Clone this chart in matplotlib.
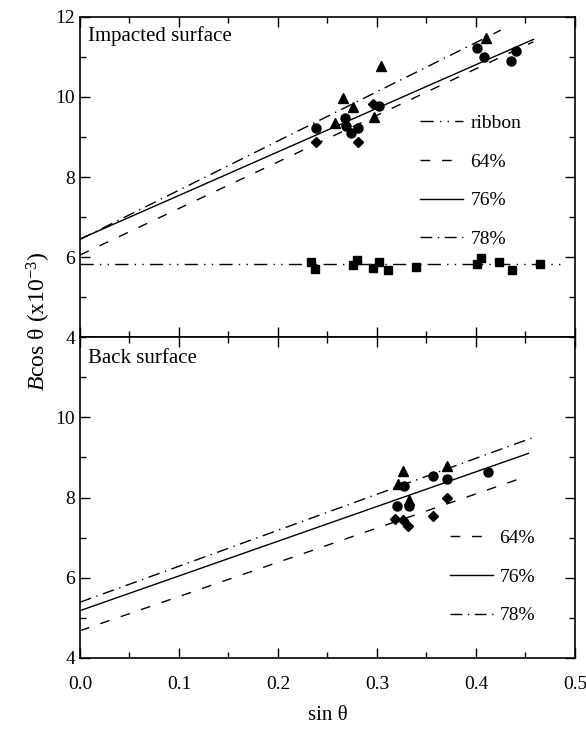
import matplotlib
matplotlib.use("Agg")
import matplotlib.pyplot as plt
from matplotlib.ticker import MultipleLocator, FormatStrFormatter

plt.rcParams['font.family'] = ['Liberation Serif', 'DejaVu Serif']
plt.rcParams['mathtext.fontset'] = 'custom'
plt.rcParams['mathtext.rm'] = 'Liberation Serif'
plt.rcParams['mathtext.it'] = 'Liberation Serif:italic'

# Impacted surface data (sin theta, B cos theta x1e-3)
top_circle_x = [0.238, 0.268, 0.269, 0.274, 0.281, 0.302, 0.401, 0.408, 0.435, 0.440]
top_circle_y = [9.23, 9.47, 9.28, 9.10, 9.23, 9.78, 11.22, 11.00, 10.90, 11.15]
top_tri_x = [0.258, 0.266, 0.276, 0.297, 0.304, 0.410]
top_tri_y = [9.35, 9.98, 9.76, 9.50, 10.78, 11.48]
top_dia_x = [0.238, 0.281, 0.296]
top_dia_y = [8.88, 8.88, 9.82]
ribbon_x = [0.233, 0.237, 0.276, 0.280, 0.296, 0.302, 0.311, 0.339, 0.401, 0.405, 0.423, 0.436, 0.465]
ribbon_y = [5.88, 5.70, 5.80, 5.93, 5.72, 5.88, 5.68, 5.75, 5.83, 5.97, 5.88, 5.68, 5.83]

# fitted lines, impacted surface (end points)
top_fit_ribbon_x = [0.0, 0.486]
top_fit_ribbon_y = [5.82, 5.82]
top_fit64_x = [0.0, 0.458]
top_fit64_y = [6.05, 11.38]
top_fit76_x = [0.0, 0.458]
top_fit76_y = [6.45, 11.44]
top_fit78_x = [0.0, 0.425]
top_fit78_y = [6.44, 11.67]

# Back surface data
bot_circle_x = [0.320, 0.327, 0.332, 0.357, 0.371, 0.412]
bot_circle_y = [7.80, 8.28, 7.78, 8.53, 8.45, 8.63]
bot_tri_x = [0.321, 0.326, 0.332, 0.371]
bot_tri_y = [8.33, 8.65, 7.95, 8.78]
bot_dia_x = [0.318, 0.326, 0.331, 0.357, 0.371]
bot_dia_y = [7.47, 7.45, 7.28, 7.53, 7.98]

bot_fit64_x = [0.0, 0.448]
bot_fit64_y = [4.68, 8.50]
bot_fit76_x = [0.0, 0.453]
bot_fit76_y = [5.18, 9.10]
bot_fit78_x = [0.0, 0.456]
bot_fit78_y = [5.39, 9.48]

ls_ribbon = (0, (9.5, 4.5, 1, 4.5, 1, 4.5))
ls_64 = (0, (7, 8.5))
ls_78 = (0, (8.5, 4, 1, 4))

fig = plt.figure(figsize=(5.86, 7.29), dpi=100)
ax1 = fig.add_axes([0.1365, 0.5377, 0.8447, 0.4390])
ax2 = fig.add_axes([0.1365, 0.0974, 0.8447, 0.4403], sharex=ax1)

ms = 6.5
# top panel
ax1.plot(top_fit_ribbon_x, top_fit_ribbon_y, color="black", lw=1.0, ls=ls_ribbon, label="ribbon")
ax1.plot(top_fit64_x, top_fit64_y, color="black", lw=1.0, ls=ls_64, label="64%")
ax1.plot(top_fit76_x, top_fit76_y, color="black", lw=1.0, ls="-", label="76%")
ax1.plot(top_fit78_x, top_fit78_y, color="black", lw=1.0, ls=ls_78, label="78%")
ax1.plot(top_circle_x, top_circle_y, "o", color="black", ms=ms, ls="none")
ax1.plot(top_tri_x, top_tri_y, "^", color="black", ms=ms + 1, ls="none")
ax1.plot(top_dia_x, top_dia_y, "D", color="black", ms=ms - 1.5, ls="none")
ax1.plot(ribbon_x, ribbon_y, "s", color="black", ms=ms - 1, ls="none")

# bottom panel
ax2.plot(bot_fit64_x, bot_fit64_y, color="black", lw=1.0, ls=ls_64, label="64%")
ax2.plot(bot_fit76_x, bot_fit76_y, color="black", lw=1.0, ls="-", label="76%")
ax2.plot(bot_fit78_x, bot_fit78_y, color="black", lw=1.0, ls=ls_78, label="78%")
ax2.plot(bot_circle_x, bot_circle_y, "o", color="black", ms=ms, ls="none")
ax2.plot(bot_tri_x, bot_tri_y, "^", color="black", ms=ms + 1, ls="none")
ax2.plot(bot_dia_x, bot_dia_y, "D", color="black", ms=ms - 1.5, ls="none")

for ax in (ax1, ax2):
    ax.set_xlim(0.0, 0.5)
    ax.set_ylim(4, 12)
    ax.xaxis.set_major_locator(MultipleLocator(0.1))
    ax.xaxis.set_minor_locator(MultipleLocator(0.05))
    ax.yaxis.set_major_locator(MultipleLocator(2))
    ax.yaxis.set_minor_locator(MultipleLocator(1))
    ax.tick_params(which="both", direction="in", top=True, right=True, labelsize=14)
    ax.tick_params(which="major", length=7, width=1.0)
    ax.tick_params(which="minor", length=4, width=1.0)
    for sp in ax.spines.values():
        sp.set_linewidth(1.2)

ax1.tick_params(labelbottom=False)
ax2.set_yticks([4, 6, 8, 10])
ax2.tick_params(axis="x", which="major", pad=13)
ax2.xaxis.set_major_formatter(FormatStrFormatter("%.1f"))
ax2.set_xlabel(r"sin θ", fontsize=15, labelpad=9)

ax1.text(0.016, 0.94, "Impacted surface", transform=ax1.transAxes, fontsize=15, va="center", ha="left")
ax2.text(0.016, 0.934, "Back surface", transform=ax2.transAxes, fontsize=15, va="center", ha="left")

ax1.legend(loc="upper left", bbox_to_anchor=(0.687, 0.695), frameon=False, fontsize=14,
           borderpad=0, borderaxespad=0, handlelength=2.2, handletextpad=0.4, labelspacing=1.08)
ax2.legend(loc="upper left", bbox_to_anchor=(0.747, 0.40), frameon=False, fontsize=14,
           borderpad=0, borderaxespad=0, handlelength=2.2, handletextpad=0.35, labelspacing=1.08)

fig.text(0.066, 0.56, r"$B$cos θ (x10$^{-3}$)", rotation=90, fontsize=17, ha="center", va="center")

fig.savefig("out.png", dpi=100)
